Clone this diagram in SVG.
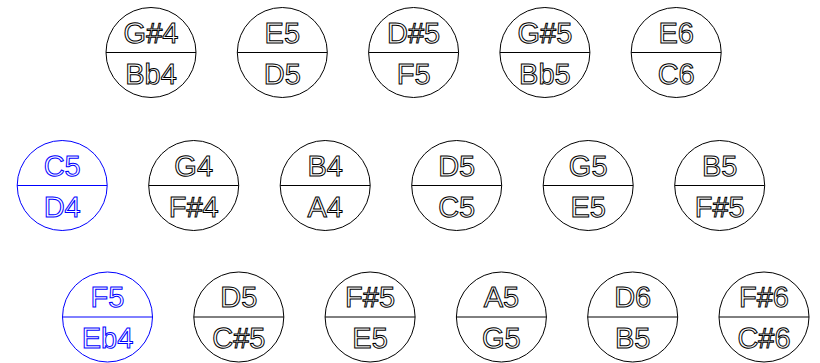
<svg xmlns="http://www.w3.org/2000/svg" width="820" height="363" viewBox="0 0 820 363">
<style>
.n circle{fill:none;stroke:#000;stroke-width:1}
.n line{stroke:#000;stroke-width:1}
.n text{font-family:"Liberation Sans",Arial,sans-serif;font-size:29px;fill:#fff;stroke:#000;stroke-width:1;text-anchor:middle;text-rendering:geometricPrecision}
.b circle,.b line{stroke:#0000ff}
.b text{stroke:#0000ff}
</style>
<rect width="820" height="363" fill="#fff"/>
<g id="connectors"/>
<g id="n1" class="n" transform="translate(151,52.5)"><circle r="45"/><line x1="-45" x2="45"/><text y="-10">G#4</text><text y="31">Bb4</text></g>
<g id="n2" class="n" transform="translate(282.3,52.5)"><circle r="45"/><line x1="-45" x2="45"/><text y="-10">E5</text><text y="31">D5</text></g>
<g id="n3" class="n" transform="translate(413.6,52.5)"><circle r="45"/><line x1="-45" x2="45"/><text y="-10">D#5</text><text y="31">F5</text></g>
<g id="n4" class="n" transform="translate(544.9,52.5)"><circle r="45"/><line x1="-45" x2="45"/><text y="-10">G#5</text><text y="31">Bb5</text></g>
<g id="n5" class="n" transform="translate(676.2,52.5)"><circle r="45"/><line x1="-45" x2="45"/><text y="-10">E6</text><text y="31">C6</text></g>
<g id="n6" class="n b" transform="translate(62.2,185.5)"><circle r="45"/><line x1="-45" x2="45"/><text y="-10">C5</text><text y="31">D4</text></g>
<g id="n7" class="n" transform="translate(193.7,185.5)"><circle r="45"/><line x1="-45" x2="45"/><text y="-10">G4</text><text y="31">F#4</text></g>
<g id="n8" class="n" transform="translate(325.2,185.5)"><circle r="45"/><line x1="-45" x2="45"/><text y="-10">B4</text><text y="31">A4</text></g>
<g id="n9" class="n" transform="translate(456.7,185.5)"><circle r="45"/><line x1="-45" x2="45"/><text y="-10">D5</text><text y="31">C5</text></g>
<g id="n10" class="n" transform="translate(588.2,185.5)"><circle r="45"/><line x1="-45" x2="45"/><text y="-10">G5</text><text y="31">E5</text></g>
<g id="n11" class="n" transform="translate(719.7,185.5)"><circle r="45"/><line x1="-45" x2="45"/><text y="-10">B5</text><text y="31">F#5</text></g>
<g id="n12" class="n b" transform="translate(107.5,317)"><circle r="45"/><line x1="-45" x2="45"/><text y="-10">F5</text><text y="31">Eb4</text></g>
<g id="n13" class="n" transform="translate(238.8,317)"><circle r="45"/><line x1="-45" x2="45"/><text y="-10">D5</text><text y="31">C#5</text></g>
<g id="n14" class="n" transform="translate(370.1,317)"><circle r="45"/><line x1="-45" x2="45"/><text y="-10">F#5</text><text y="31">E5</text></g>
<g id="n15" class="n" transform="translate(501.4,317)"><circle r="45"/><line x1="-45" x2="45"/><text y="-10">A5</text><text y="31">G5</text></g>
<g id="n16" class="n" transform="translate(632.7,317)"><circle r="45"/><line x1="-45" x2="45"/><text y="-10">D6</text><text y="31">B5</text></g>
<g id="n17" class="n" transform="translate(764,317)"><circle r="45"/><line x1="-45" x2="45"/><text y="-10">F#6</text><text y="31">C#6</text></g>
</svg>
